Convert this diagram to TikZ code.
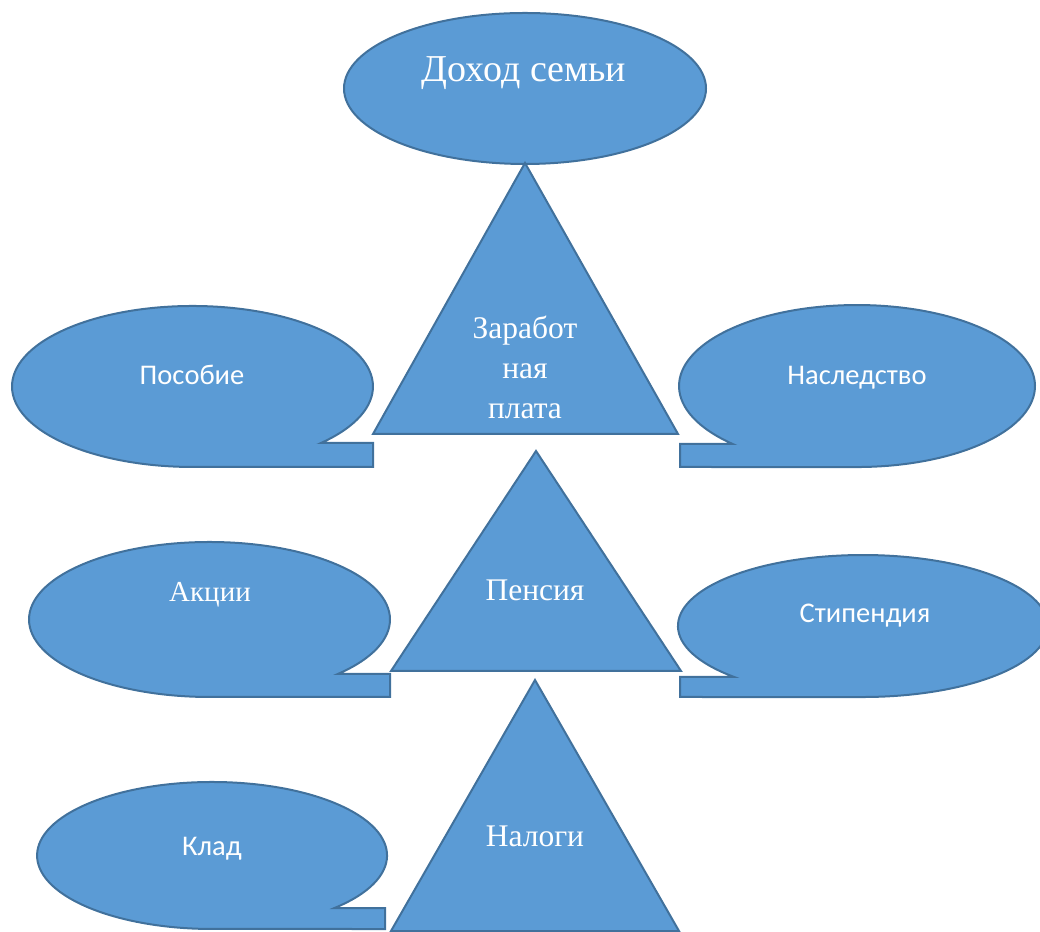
\documentclass[tikz,border=0pt]{standalone}
\usepackage{fontspec}
\setmainfont{Liberation Serif}
\newfontfamily\calibrifont{Carlito}
\definecolor{fillblue}{HTML}{5B9BD5}
\definecolor{lineblue}{HTML}{41719C}
\begin{document}
\begin{tikzpicture}[x=1pt,y=1pt,
  shapestyle/.style={fill=fillblue,draw=lineblue,line width=2pt,line join=miter},
  serifstyle/.style={text=white,font=\fontsize{31.5}{40}\selectfont,inner sep=0pt,anchor=base},
  sansstyle/.style={text=white,font=\calibrifont\fontsize{28.5}{34}\selectfont,inner sep=0pt,anchor=base}]
\useasboundingbox (0,0) rectangle (1040,931);
\clip (0,0) rectangle (1040,931);

% top ellipse
\path[shapestyle] (525,842.5) ellipse [x radius=181pt, y radius=75.5pt];

% callouts with tail to the right
% Пособие
\path[shapestyle] (321,488) arc[start angle=-44.6, end angle=270, x radius=180.5pt, y radius=80.5pt]
  -- (373,464) -- (373,488) -- cycle;
% Акции
\path[shapestyle] (337.8,257) arc[start angle=-44.7, end angle=270, x radius=180.5pt, y radius=77.5pt]
  -- (390,234) -- (390,257) -- cycle;
% Клад
\path[shapestyle] (334.5,23) arc[start angle=-45.6, end angle=270, x radius=175pt, y radius=73.5pt]
  -- (385,2) -- (385,23) -- cycle;

% callouts with tail to the left
% Наследство
\path[shapestyle] (680,487) -- (732.7,487) arc[start angle=225.7, end angle=-90, x radius=178pt, y radius=81pt]
  -- (680,464) -- cycle;
% Стипендия
\path[shapestyle] (680,254) -- (734.2,254) arc[start angle=225.9, end angle=-90, x radius=185pt, y radius=71pt]
  -- (680,234) -- cycle;

% triangles
\path[shapestyle] (373,497) -- (525,768) -- (678,497) -- cycle;
\path[shapestyle] (391,260) -- (536,480) -- (681,260) -- cycle;
\path[shapestyle] (391,0) -- (535,251) -- (679,0) -- cycle;

% labels
\node[serifstyle,font=\fontsize{38}{44}\selectfont] (dohod) at (524,849) {Доход семьи};
\node[serifstyle] (zar1) at (525,592) {Заработ};
\node[serifstyle] (zar2) at (525,552) {ная};
\node[serifstyle] (zar3) at (525,512) {плата};
\node[serifstyle] (pensiya) at (535,330) {Пенсия};
\node[serifstyle] (nalogi) at (535,85) {Налоги};
\node[serifstyle,font=\fontsize{29}{35}\selectfont] (akcii) at (210,329) {Акции};
\node[sansstyle] (posobie) at (192,546) {Пособие};
\node[sansstyle] (nasledstvo) at (857,546) {Наследство};
\node[sansstyle] (stipendiya) at (865,308) {Стипендия};
\node[sansstyle] (klad) at (212,76) {Клад};
\end{tikzpicture}
\end{document}
